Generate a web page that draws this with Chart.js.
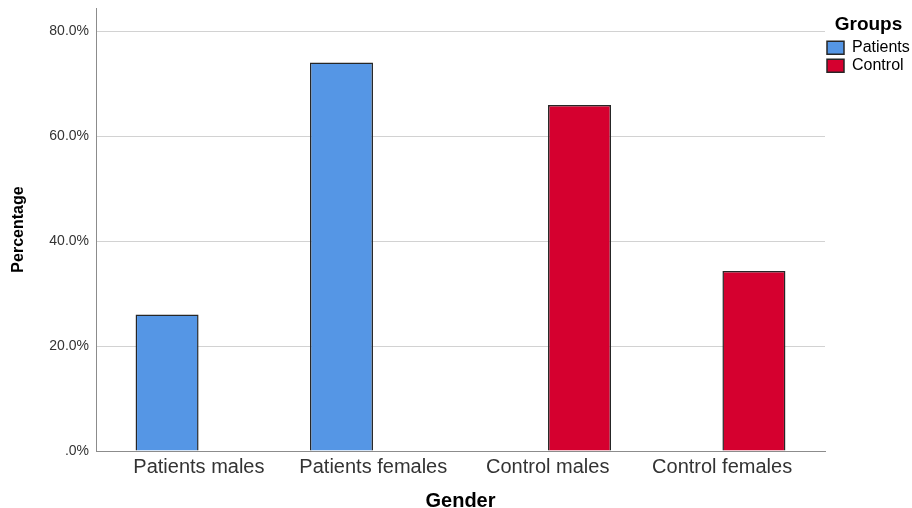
<!DOCTYPE html>
<html>
<head>
<meta charset="utf-8">
<script src="https://cdn.jsdelivr.net/npm/chart.js@4.4.1/dist/chart.umd.min.js"></script>
<style>
  html, body { margin: 0; padding: 0; background: #fff; overflow: hidden; }
  #wrap { width: 912px; height: 508px; position: relative; }
</style>
</head>
<body>
<div id="wrap"><canvas id="barChart"></canvas></div>
<script>
// 資料
let categories = ['Patients males', 'Patients females', 'Control males', 'Control females']
let patientsPct = [26.0, 74.0, 0, 0]
let controlPct = [0, 0, 65.9, 34.3]
let yTicks = [0, 20, 40, 60, 80]

let colorPatients = '#5596e5'
let colorControl = '#d5002f'
let colorBorder = '#262626'
let colorGrid = '#d2d2d2'
let colorAxis = '#8c8c8c'
let fontFamily = '"Liberation Sans", Arial, sans-serif'

// x 用 linear 軸, 讓左右留白跟原圖一樣
function toPoints(arr) {
    return arr.map((v, i) => ({ x: i, y: v }))
}

function pctLabel(v) {
    return v === 0 ? '.0%' : v.toFixed(1) + '%'
}

let ctx = document.getElementById('barChart').getContext('2d')

let barChart = new Chart(ctx, {
    type: 'bar',
    data: {
        datasets: [{
            label: 'Patients',
            data: toPoints(patientsPct),
            backgroundColor: colorPatients,
            borderColor: colorBorder,
            borderWidth: 1.5
        }, {
            label: 'Control',
            data: toPoints(controlPct),
            backgroundColor: colorControl,
            borderColor: colorBorder,
            borderWidth: 1.5
        }]
    },
    options: {
        responsive: true,
        maintainAspectRatio: false,
        animation: false,
        categoryPercentage: 0.73,
        barPercentage: 0.99,
        layout: {
            padding: { top: 8, left: 0, right: 0, bottom: 0 }
        },
        scales: {
            x: {
                type: 'linear',
                offset: false,
                min: -0.59,
                max: 3.59,
                afterBuildTicks: (s) => { s.ticks = categories.map((c, i) => ({ value: i })) },
                afterFit: (s) => {
                    s.height = 57
                    s.paddingLeft = 0
                    s.paddingRight = 0
                },
                grid: { display: false, drawTicks: false },
                border: { display: true, color: colorAxis, width: 1 },
                ticks: {
                    padding: 4,
                    color: '#333',
                    font: { family: fontFamily, size: 20 },
                    callback: (v) => categories[v]
                },
                title: {
                    display: true,
                    text: 'Gender',
                    color: '#000',
                    padding: { top: 0, bottom: 0 },
                    font: { family: fontFamily, size: 20, weight: 'bold', lineHeight: 0.7 }
                }
            },
            y: {
                min: 0,
                max: 84.4,
                afterBuildTicks: (s) => { s.ticks = yTicks.map(v => ({ value: v })) },
                afterFit: (s) => {
                    s.width = 96
                    s.paddingTop = 0
                    s.paddingBottom = 0
                },
                grid: { color: colorGrid, drawTicks: false },
                border: { display: true, color: colorAxis, width: 1 },
                ticks: {
                    padding: 7,
                    color: '#333',
                    font: { family: fontFamily, size: 14 },
                    callback: (v) => pctLabel(v)
                },
                title: {
                    display: true,
                    text: 'Percentage',
                    color: '#000',
                    padding: { top: 9, bottom: 4 },
                    font: { family: fontFamily, size: 16, weight: 'bold' }
                }
            }
        },
        plugins: {
            tooltip: { enabled: false },
            legend: {
                position: 'right',
                align: 'start',
                maxWidth: 87,
                title: {
                    display: true,
                    text: 'Groups',
                    position: 'center',
                    color: '#000',
                    padding: { top: 7, bottom: 0 },
                    font: { family: fontFamily, size: 19, weight: 'bold' }
                },
                labels: {
                    boxWidth: 17,
                    boxHeight: 13,
                    padding: 2,
                    color: '#000',
                    font: { family: fontFamily, size: 16 }
                }
            }
        }
    }
})
</script>
</body>
</html>
